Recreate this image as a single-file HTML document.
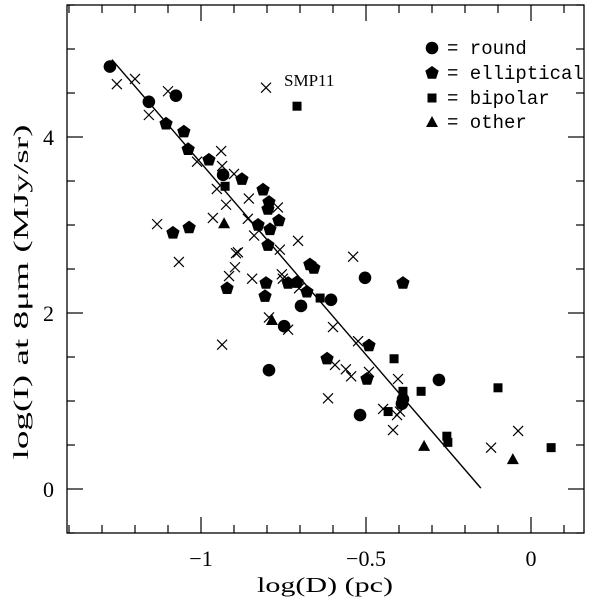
<!DOCTYPE html>
<html><head><meta charset="utf-8"><style>
html,body{margin:0;padding:0;background:#fff;}
svg{display:block;font-family:"Liberation Serif",serif;}
</style></head><body>
<svg id="chart" width="600" height="600" viewBox="0 0 600 600"></svg>
<script>
const roundX=[-1.276,-1.158,-1.076,-0.933,-0.503,-0.606,-0.697,-0.748,-0.794,-0.279,-0.518,-0.391,-0.388];
const roundY=[4.80,4.40,4.47,3.57,2.40,2.15,2.08,1.85,1.35,1.24,0.84,0.97,1.02];
const ellX=[-1.106,-1.052,-1.039,-0.976,-0.876,-0.812,-0.794,-0.797,-0.764,-0.827,-0.791,-0.797,-1.085,-1.036,-0.670,-0.658,-0.388,-0.921,-0.803,-0.806,-0.736,-0.709,-0.679,-0.491,-0.618,-0.497];
const ellY=[4.15,4.06,3.86,3.74,3.52,3.40,3.26,3.18,3.05,3.00,2.95,2.77,2.91,2.97,2.55,2.51,2.34,2.28,2.34,2.19,2.34,2.35,2.24,1.63,1.48,1.25];
const bipX=[-0.709,-0.927,-0.639,-0.415,-0.388,-0.333,-0.100,-0.433,-0.255,-0.252,0.061];
const bipY=[4.35,3.44,2.17,1.48,1.11,1.11,1.15,0.88,0.60,0.53,0.47];
const othX=[-0.930,-0.785,-0.324,-0.055];
const othY=[3.02,1.92,0.49,0.34];
const crossX=[-1.255,-1.200,-1.158,-1.100,-0.803,-1.133,-1.067,-1.012,-0.939,-0.936,-0.900,-0.952,-0.924,-0.964,-0.855,-0.858,-0.839,-0.767,-0.761,-0.706,-0.539,-0.897,-0.894,-0.888,-0.915,-0.845,-0.755,-0.752,-0.703,-0.794,-0.736,-0.936,-0.600,-0.524,-0.594,-0.561,-0.545,-0.491,-0.403,-0.615,-0.448,-0.406,-0.418,-0.121,-0.039,-0.397];
const crossY=[4.60,4.66,4.25,4.52,4.56,3.01,2.58,3.72,3.84,3.67,3.58,3.41,3.23,3.08,3.30,3.07,2.88,3.20,2.72,2.82,2.64,2.52,2.68,2.69,2.42,2.39,2.44,2.39,2.28,1.95,1.81,1.64,1.84,1.68,1.41,1.36,1.28,1.33,1.25,1.03,0.91,0.84,0.67,0.47,0.66,0.88];
const fitX=[-1.27,-0.152];
const fitY=[4.88,0.01];
const xTicks=[-1,-0.5,0];
const xTickLabels=["\u22121","\u22120.5","0"];
const yTicks=[0,2,4];
const yTickLabels=["0","2","4"];

const NS="http://www.w3.org/2000/svg";
const svg=document.getElementById('chart');
const X=v=>531+330*v;
const Y=v=>489-88*v;
const L=67,R=584,T=5,B=533;
function mk(tag,attrs,parent){const e=document.createElementNS(NS,tag);for(const k in attrs)e.setAttribute(k,attrs[k]);(parent||svg).appendChild(e);return e;}

const frame=mk('rect',{x:L,y:T,width:R-L,height:B-T,fill:'none',stroke:'#000','stroke-width':1.3});



const ticks=mk('g',{stroke:'#000','stroke-width':1.2});


for(let i=-14;i<=1;i++){const v=i/10,px=X(v);const maj=(i%5===0);const len=maj?16:8;
 mk('line',{x1:px,y1:B,x2:px,y2:B-len},ticks);mk('line',{x1:px,y1:T,x2:px,y2:T+len},ticks);}
for(let i=-1;i<=11;i++){const v=i/2,py=Y(v);const maj=(i%4===0);const len=maj?16:8;
 mk('line',{x1:L,y1:py,x2:L+len,y2:py},ticks);mk('line',{x1:R,y1:py,x2:R-len,y2:py},ticks);}

xTicks.forEach((v,i)=>{const t=mk('text',{x:X(v),y:566,'text-anchor':'middle','font-size':22});t.textContent=xTickLabels[i];
 
 });
yTicks.forEach((v,i)=>{const t=mk('text',{x:54,y:Y(v)+8,'text-anchor':'end','font-size':22});t.textContent=yTickLabels[i];
 
 });

const xt=mk('text',{x:325,y:592,'text-anchor':'middle','font-size':21,textLength:136,lengthAdjust:'spacingAndGlyphs'});xt.textContent='log(D) (pc)';


const yt=mk('text',{x:0,y:0,'text-anchor':'middle','font-size':21,textLength:335,lengthAdjust:'spacingAndGlyphs',transform:'translate(28,292) rotate(-90)'});yt.textContent='log(I) at 8\u03bcm (MJy/sr)';



const fit=mk('line',{x1:X(fitX[0]),y1:Y(fitY[0]),x2:X(fitX[1]),y2:Y(fitY[1]),stroke:'#000','stroke-width':1.4});



function circle(cx,cy,g){return mk('circle',{cx:cx,cy:cy,r:6.3},g);}
function pent(cx,cy,g){let p=[];for(let k=0;k<5;k++){const a=-Math.PI/2+k*2*Math.PI/5;p.push((cx+7*Math.cos(a)).toFixed(1)+','+(cy+7*Math.sin(a)).toFixed(1));}return mk('polygon',{points:p.join(' ')},g);}
function sq(cx,cy,g){return mk('rect',{x:cx-4.5,y:cy-4.5,width:9,height:9},g);}
function tri(cx,cy,g){return mk('polygon',{points:`${cx},${cy-6} ${cx-6},${cy+5} ${cx+6},${cy+5}`},g);}
function cross(cx,cy,g){return mk('path',{d:`M${cx-5},${cy-5}L${cx+5},${cy+5}M${cx-5},${cy+5}L${cx+5},${cy-5}`,stroke:'#000','stroke-width':1.2,fill:'none'},g);}

function series(name,xs,ys,fn){const g=mk('g',{fill:'#000'});
 
 
 xs.forEach((v,i)=>{const m=fn(X(v),Y(ys[i]),g);
  
  });}
series('cross-series',crossX,crossY,cross);
series('round-series',roundX,roundY,circle);
series('elliptical-series',ellX,ellY,pent);
series('bipolar-series',bipX,bipY,sq);
series('other-series',othX,othY,tri);

const smp=mk('text',{x:284,y:86,'font-size':17});smp.textContent='SMP11';



const leg=mk('g',{fill:'#000'});


const names=['round','elliptical','bipolar','other'];const fns=[circle,pent,sq,tri];const ly=[48,73,98,122];
names.forEach((n,i)=>{fns[i](432,ly[i],leg);const t=mk('text',{x:447,y:ly[i]+6,'font-size':19,'font-family':'Liberation Mono, monospace'},leg);t.textContent='= '+n;
 
 });
</script>
</body></html>
